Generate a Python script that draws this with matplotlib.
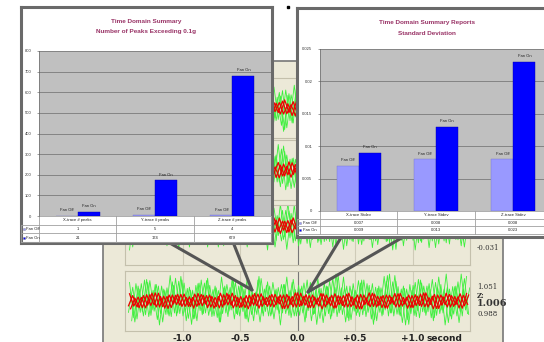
import numpy as np
import matplotlib
matplotlib.use('Agg')
from matplotlib import pyplot as plt
from matplotlib.transforms import blended_transform_factory

W, H = 544, 342

# chart data
peak_cats = ['X-trace # peaks', 'Y-trace # peaks', 'Z-trace # peaks']
peaks_fan_off = [1, 5, 4]
peaks_fan_on = [21, 174, 679]
peak_ticks = [0, 100, 200, 300, 400, 500, 600, 700, 800]

std_cats = ['X-trace Stdev', 'Y-trace Stdev', 'Z-trace Stdev']
std_fan_off = [0.007, 0.008, 0.008]
std_fan_on = [0.009, 0.013, 0.023]
std_ticks = [0, 0.005, 0.01, 0.015, 0.02, 0.025]
std_tick_labels = ['0', '0.005', '0.01', '0.015', '0.02', '0.025']

time_ticks = [-1.0, -0.5, 0.0, 0.5, 1.0]
time_labels = ['-1.0', '-0.5', '0.0', '+0.5', '+1.0']
z_scale = ['1.051', 'Z:', '1.006', '0.988']

# background traces (hand read, rough)
green_trace = [0.35, -0.42, 0.55, -0.3, 0.62, -0.5, 0.4, -0.7, 0.3, -0.45,
               0.75, -0.35, 0.5, -0.6, 0.45, -0.4, 0.8, -0.55, 0.38, -0.48,
               0.6, -0.32, 0.52, -0.78, 0.42, -0.5, 0.66, -0.4, 0.85, -0.45,
               0.5, -0.62, 0.36, -0.52, 0.7, -0.38, 0.58, -0.66, 0.44, -0.3,
               0.9, -0.5, 0.48, -0.72, 0.4, -0.42, 0.62, -0.56, 0.5, -0.36,
               0.72, -0.48, 0.55, -0.8, 0.4, -0.44, 0.64, -0.5, 0.82, -0.38,
               0.46, -0.6, 0.58, -0.46, 0.68, -0.34, 0.5, -0.7, 0.44, -0.52,
               0.76, -0.42, 0.6, -0.58, 0.36, -0.66, 0.7, -0.4, 0.52, -0.5]
red_trace = [0.12, -0.18, 0.22, -0.1, 0.2, -0.24, 0.15, -0.2, 0.26, -0.14,
             0.18, -0.22, 0.1, -0.26, 0.2, -0.16, 0.24, -0.12, 0.18, -0.2,
             0.14, -0.25, 0.22, -0.12, 0.27, -0.18, 0.16, -0.22, 0.2, -0.1,
             0.25, -0.2, 0.12, -0.24, 0.18, -0.15, 0.23, -0.19, 0.11, -0.26,
             0.2, -0.14, 0.26, -0.2, 0.15, -0.23, 0.19, -0.11, 0.24, -0.17,
             0.13, -0.22, 0.21, -0.15, 0.27, -0.2, 0.16, -0.25, 0.2, -0.12,
             0.22, -0.18, 0.14, -0.24, 0.25, -0.16, 0.18, -0.2, 0.12, -0.23,
             0.21, -0.13, 0.26, -0.19, 0.15, -0.22, 0.19, -0.14, 0.23, -0.18]

NARROW = ['Liberation Sans Narrow', 'Liberation Sans', 'DejaVu Sans']
TITLE_COLOR = '#993366'
OFF_COLOR = '#9999ff'
ON_COLOR = '#0000ff'


def px(x0, y0, x1, y1):
    return [x0 / W, 1 - y1 / H, (x1 - x0) / W, (y1 - y0) / H]


fig = plt.figure(figsize=(W / 100, H / 100), dpi=100)

# background window
bg = fig.add_axes([0, 0, 1, 1], zorder=0)
bg.set_xlim(0, W)
bg.set_ylim(H, 0)
bg.axis('off')
bg.add_patch(plt.Rectangle((103, 61), 400, 290, facecolor='#ece9d8',
                           edgecolor='#777777', lw=1.2))
for i, s in enumerate(z_scale):
    bg.text(477, [287, 296, 304, 314][i], s, fontsize=7 if i == 2 else 5,
            fontweight='bold' if i in (1, 2) else 'normal',
            family='DejaVu Serif', va='center', color='#333333')
bg.text(477, 248, '-0.031', fontsize=5, family='DejaVu Serif', va='center', color='#333333')
bg.plot([288], [7], 's', color='black', ms=2)

# trace strips
strips = [(78, 138, (-1, 1)), (140, 200, (-1, 1)), (205, 265, (-1.3, 0.7)), (271, 331, (-1, 1))]
for k, (y0, y1, yl) in enumerate(strips):
    ta = fig.add_axes(px(125, y0, 470, y1), zorder=1)
    ta.set_facecolor('#ece9d8')
    ta.set_xlim(-1.5, 1.5)
    ta.set_ylim(*yl)
    ta.set_xticks([])
    ta.set_yticks([])
    for s in ta.spines.values():
        s.set_color('#c4c0ac')
        s.set_linewidth(0.8)
    for t in time_ticks:
        ta.axvline(t, color='#777777' if t == 0 else '#cfcbb8', lw=0.8)
    tg = np.linspace(-1.47, 1.47, len(green_trace))
    step = tg[1] - tg[0]
    g = np.array(green_trace)
    for sh, vals in [(0, np.roll(g, 7 * k)), (0.5, np.roll(g[::-1], 3 * k)),
                     (0.25, np.roll(g, 13 + 7 * k)), (0.75, np.roll(g[::-1], 29 + 3 * k))]:
        ta.plot(tg + sh * step, vals, color='#3cf03c', lw=0.6)
    tr_ = np.linspace(-1.47, 1.47, len(red_trace))
    r = np.array(red_trace)
    for sh, vals in [(0, np.roll(r, 5 * k)), (0.5, np.roll(r[::-1], 11 + k)),
                     (0.25, np.roll(r, 17 + 5 * k))]:
        ta.plot(tr_ + sh * step, vals, color='#ee0000', lw=0.9)
    if k == 3:
        tr = blended_transform_factory(ta.transData, ta.transAxes)
        for t, lab in zip(time_ticks, time_labels):
            ta.text(t, -0.12, lab, transform=tr, ha='center', va='center',
                    fontsize=6.5, fontweight='bold', color='#222222', clip_on=False)
        ta.text(time_ticks[-1] + 0.12, -0.12, 'second', transform=tr, ha='left',
                va='center', fontsize=6.5, fontweight='bold', color='#222222', clip_on=False)

# callout lines
ov = fig.add_axes([0, 0, 1, 1], zorder=2)
ov.set_xlim(0, W)
ov.set_ylim(H, 0)
ov.axis('off')
for (xa, ya), (xb, yb) in [((168, 242), (252, 290)), ((233, 242), (252, 290)),
                           ((342, 236), (308, 292)), ((405, 236), (308, 292))]:
    ov.plot([xa, xb], [ya, yb], color='#555555', lw=2.2, solid_capstyle='round')


def bar_chart(box, area, titles, title_x, cats, off, on, ylim, ticks, tick_labels,
              fmt, hdr, row_h, z):
    bx = fig.add_axes(px(*box), zorder=z)
    bx.set_xlim(box[0], box[2])
    bx.set_ylim(box[3], box[1])
    bx.set_xticks([])
    bx.set_yticks([])
    for s in bx.spines.values():
        s.set_color('#6a6a6a')
        s.set_linewidth(2.2)
    bx.text(title_x, box[1] + 14, titles[0], ha='center', va='center', fontsize=4.6,
            fontweight='bold', color=TITLE_COLOR, family=NARROW)
    bx.text(title_x, box[1] + 25, titles[1], ha='center', va='center', fontsize=4.6,
            fontweight='bold', color=TITLE_COLOR, family=NARROW)

    ax = fig.add_axes(px(*area), zorder=z + 1)
    ax.set_facecolor('#c0c0c0')
    x = np.arange(len(cats))
    w = 0.285
    ax.bar(x - w / 2, off, w, color=OFF_COLOR, edgecolor='#7777cc', lw=0.3)
    ax.bar(x + w / 2, on, w, color=ON_COLOR, edgecolor='#0000aa', lw=0.3)
    for xi, v in zip(x, off):
        ax.annotate('Fan Off', (xi - w / 2, v), xytext=(0, 2.5), textcoords='offset points',
                    ha='center', va='bottom', fontsize=3, family=NARROW, color='#222222')
    for xi, v in zip(x, on):
        ax.annotate('Fan On', (xi + w / 2, v), xytext=(0, 2.5), textcoords='offset points',
                    ha='center', va='bottom', fontsize=3, family=NARROW, color='#222222')
    ax.set_xlim(-0.5, len(cats) - 0.5)
    ax.set_ylim(*ylim)
    ax.set_yticks(ticks)
    ax.set_yticklabels(tick_labels, fontsize=3, family=NARROW, color='#333333')
    ax.tick_params(axis='y', length=1.5, width=0.4, pad=4, color='#555555')
    ax.set_xticks([])
    ax.yaxis.grid(True, color='#7a7a7a', lw=0.6)
    ax.set_axisbelow(True)
    for name in ['top', 'right', 'bottom']:
        ax.spines[name].set_visible(False)
    ax.spines['left'].set_color('#666666')
    ax.spines['left'].set_linewidth(0.5)

    # data table under the plot
    tr = blended_transform_factory(ax.transData, ax.transAxes)
    lo, hi = -0.5, len(cats) - 0.5
    lc = '#a0a0a0'
    ax.plot([lo, hi], [0, 0], color=lc, lw=0.6, transform=tr, clip_on=False)
    for i in range(1, 4):
        ax.plot([lo - hdr, hi], [-i * row_h] * 2, color=lc, lw=0.6, transform=tr, clip_on=False)
    ax.plot([lo - hdr] * 2, [-row_h, -3 * row_h], color=lc, lw=0.6, transform=tr, clip_on=False)
    for xb in np.arange(lo, hi + 0.5):
        ax.plot([xb, xb], [0, -3 * row_h], color=lc, lw=0.6, transform=tr, clip_on=False)
    for xi, c, a, b in zip(x, cats, off, on):
        for j, s in enumerate([c, fmt(a), fmt(b)]):
            ax.text(xi, -(j + 0.5) * row_h, s, transform=tr, ha='center', va='center',
                    fontsize=3, family=NARROW, color='#222222', clip_on=False)
    for j, (lab, col) in enumerate([('Fan Off', OFF_COLOR), ('Fan On', ON_COLOR)]):
        yy = -(j + 1.5) * row_h
        ax.plot([lo - hdr * 0.85], [yy], 's', ms=1.4, color=col, mec='#555555', mew=0.2,
                transform=tr, clip_on=False)
        ax.text(lo - hdr * 0.72, yy, lab, transform=tr, ha='left', va='center',
                fontsize=3, family=NARROW, color='#222222', clip_on=False)
    return ax


bar_chart((21, 7, 272, 243), (39, 51, 271, 216),
          ['Time Domain Summary', 'Number of Peaks Exceeding 0.1g'], 146,
          peak_cats, peaks_fan_off, peaks_fan_on, (0, 800), peak_ticks,
          [str(t) for t in peak_ticks], lambda v: str(v), 0.233, 0.053, 3)

bar_chart((297, 8, 562, 237), (320, 49, 552, 211),
          ['Time Domain Summary Reports', 'Standard Deviation'], 427,
          std_cats, std_fan_off, std_fan_on, (0, 0.025), std_ticks,
          std_tick_labels, lambda v: f'{v:.3f}', 0.3, 0.0475, 5)

fig.savefig('out.png', dpi=100)
